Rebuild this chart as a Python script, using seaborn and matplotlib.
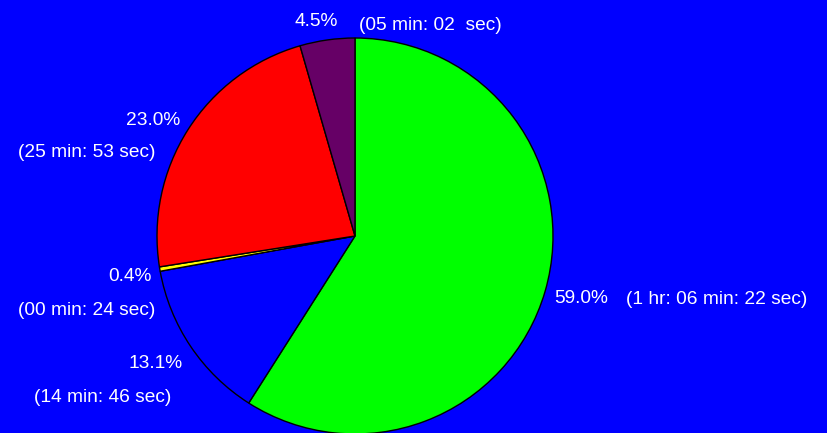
import matplotlib
matplotlib.use("Agg")
import matplotlib.pyplot as plt
import seaborn as sns

# durees par tranche (secondes), dans l'ordre horaire depuis le haut
secondes = [3982, 886, 24, 1553, 302]
couleurs = ["#00ff00", "#0000ff", "#ffff00", "#ff0000", "#660066"]
pourcentages = ["59.0%", "13.1%", "0.4%", "23.0%", "4.5%"]
durees = ["(1 hr: 06 min: 22 sec)", "(14 min: 46 sec)", "(00 min: 24 sec)",
          "(25 min: 53 sec)", "(05 min: 02  sec)"]

sns.set_style("white")
plt.rcParams["font.family"] = ["Liberation Sans", "DejaVu Sans"]

fig = plt.figure(figsize=(8.28, 4.33), dpi=100)
fig.patch.set_facecolor("#0000ff")
ax = fig.add_axes([0, 0, 1, 1])
ax.set_facecolor("#0000ff")

ax.pie(secondes, colors=couleurs, startangle=90, counterclock=False,
       radius=1, center=(0, 0),
       wedgeprops=dict(edgecolor="black", linewidth=1))

ax.set_xlim(-1.793, 2.389)
ax.set_ylim(-0.995, 1.192)
ax.set_aspect("auto")
ax.axis("off")

# positions des etiquettes (pourcentage, duree)
pos_pct = [(1.005, -0.318, "left"), (-0.869, -0.646, "right"),
           (-1.025, -0.207, "right"), (-0.884, 0.583, "right"),
           (-0.197, 1.084, "center")]
pos_dur = [(1.369, -0.321, "left"), (-0.929, -0.816, "right"),
           (-1.010, -0.377, "right"), (-1.010, 0.421, "right"),
           (0.020, 1.064, "left")]

for i in range(len(secondes)):
    x, y, ha = pos_pct[i]
    ax.text(x, y, pourcentages[i], color="white", fontsize=13.8, ha=ha, va="center")
    x, y, ha = pos_dur[i]
    ax.text(x, y, durees[i], color="white", fontsize=13.8, ha=ha, va="center")

plt.savefig("out.png", dpi=100, facecolor=fig.get_facecolor())
